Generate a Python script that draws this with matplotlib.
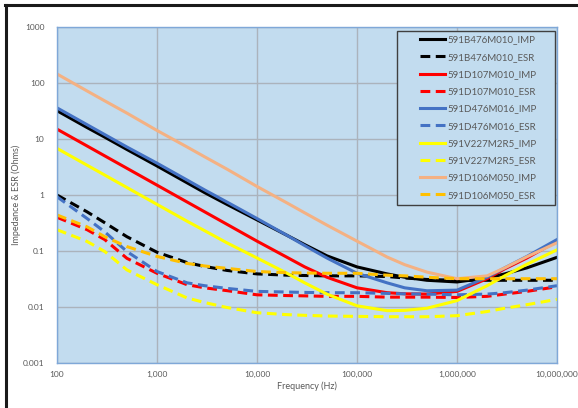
import matplotlib
matplotlib.use("Agg")
import matplotlib.pyplot as plt
from matplotlib.lines import Line2D
from matplotlib.patches import Rectangle
from matplotlib.ticker import FixedLocator, FixedFormatter

plt.rcParams['font.family'] = ['Lato', 'DejaVu Sans']

freq = [100, 200, 300, 500, 1e3, 2e3, 3e3, 5e3, 1e4, 2e4, 3e4, 5e4,
        1e5, 2e5, 3e5, 5e5, 1e6, 2e6, 3e6, 5e6, 1e7]

b476_imp = [32, 16, 10.8, 6.5, 3.3, 1.65, 1.1, 0.68, 0.36, 0.19, 0.13, 0.082,
            0.052, 0.039, 0.034, 0.030, 0.028, 0.033, 0.039, 0.050, 0.077]
b476_esr = [1.0, 0.50, 0.32, 0.18, 0.095, 0.062, 0.053, 0.045, 0.039, 0.037, 0.0365, 0.036,
            0.036, 0.035, 0.033, 0.031, 0.030, 0.030, 0.030, 0.030, 0.030]
d107_imp = [15, 7.5, 5.0, 3.0, 1.5, 0.75, 0.50, 0.30, 0.15, 0.077, 0.052, 0.034,
            0.022, 0.018, 0.0172, 0.017, 0.019, 0.032, 0.048, 0.075, 0.15]
d107_esr = [0.40, 0.24, 0.16, 0.074, 0.040, 0.025, 0.022, 0.0196, 0.0165, 0.016, 0.0158, 0.0155,
            0.0155, 0.015, 0.015, 0.015, 0.0148, 0.0155, 0.017, 0.019, 0.023]
d476_imp = [36, 18, 12, 7.2, 3.7, 1.85, 1.23, 0.75, 0.38, 0.19, 0.125, 0.075,
            0.040, 0.027, 0.022, 0.0195, 0.020, 0.034, 0.050, 0.080, 0.16]
d476_esr = [0.93, 0.38, 0.22, 0.098, 0.043, 0.027, 0.024, 0.0215, 0.019, 0.0185, 0.0182, 0.018,
            0.018, 0.0175, 0.0172, 0.017, 0.0165, 0.017, 0.018, 0.020, 0.024]
v227_imp = [6.8, 3.4, 2.27, 1.36, 0.68, 0.34, 0.23, 0.14, 0.075, 0.040, 0.027, 0.017,
            0.0105, 0.0086, 0.0087, 0.0095, 0.013, 0.024, 0.036, 0.058, 0.105]
v227_esr = [0.24, 0.148, 0.098, 0.046, 0.025, 0.0145, 0.012, 0.0098, 0.0079, 0.0073, 0.0071, 0.0069,
            0.0068, 0.0067, 0.0067, 0.0067, 0.0070, 0.0083, 0.0095, 0.011, 0.0137]
d106_imp = [145, 72, 48, 29, 14.2, 7.2, 4.8, 2.9, 1.42, 0.72, 0.48, 0.29,
            0.15, 0.078, 0.057, 0.042, 0.032, 0.036, 0.050, 0.079, 0.14]
d106_esr = [0.44, 0.27, 0.18, 0.12, 0.080, 0.060, 0.054, 0.049, 0.043, 0.041, 0.0405, 0.040,
            0.040, 0.037, 0.036, 0.034, 0.032, 0.032, 0.032, 0.032, 0.032]

series = [
    ("591B476M010_IMP", b476_imp, "#000000", "-"),
    ("591B476M010_ESR", b476_esr, "#000000", "--"),
    ("591D107M010_IMP", d107_imp, "#FF0000", "-"),
    ("591D107M010_ESR", d107_esr, "#FF0000", "--"),
    ("591D476M016_IMP", d476_imp, "#4472C4", "-"),
    ("591D476M016_ESR", d476_esr, "#4472C4", "--"),
    ("591V227M2R5_IMP", v227_imp, "#FFFF00", "-"),
    ("591V227M2R5_ESR", v227_esr, "#FFFF00", "--"),
    ("591D106M050_IMP", d106_imp, "#F4B183", "-"),
    ("591D106M050_ESR", d106_esr, "#FFC000", "--"),
]

fig = plt.figure(figsize=(5.78, 4.08), dpi=100)
ax = fig.add_axes([57/578, 45/408, 500/578, 336/408])
ax.set_facecolor("#C2DCEF")

for name, vals, col, ls in series:
    if ls == "--":
        ax.plot(freq, vals, color=col, lw=2.2, dashes=(3.2, 1.8), label=name)
    else:
        ax.plot(freq, vals, color=col, lw=2.2, label=name)

ax.set_xscale("log")
ax.set_yscale("log")
ax.set_xlim(100, 1e7)
ax.set_ylim(0.001, 1000)

xt = [100, 1e3, 1e4, 1e5, 1e6, 1e7]
yt = [0.001, 0.01, 0.1, 1, 10, 100, 1000]
ax.xaxis.set_major_locator(FixedLocator(xt))
ax.xaxis.set_major_formatter(FixedFormatter(["100", "1,000", "10,000", "100,000", "1,000,000", "10,000,000"]))
ax.yaxis.set_major_locator(FixedLocator(yt))
ax.yaxis.set_major_formatter(FixedFormatter(["0.001", "0.01", "0.1", "1", "10", "100", "1000"]))
ax.minorticks_off()
ax.tick_params(length=0, labelsize=6, labelcolor="#595959")
ax.tick_params(axis="y", pad=9)
ax.tick_params(axis="x", pad=6)
ax.grid(True, color="#ABB3BC", lw=1)
ax.set_axisbelow(True)
for s in ax.spines.values():
    s.set_color("#7FA8D8")
    s.set_linewidth(1)

ax.set_xlabel("Frequency (Hz)", fontsize=6.5, color="#595959", labelpad=2)
ax.set_ylabel("Impedance & ESR (Ohms)", fontsize=6.5, color="#595959")
ax.yaxis.set_label_coords(-0.071, 0.5)

# legend box drawn separately so it can be wider than the entries
ax.add_patch(Rectangle(((397 - 57) / 500, 1 - (205 - 27) / 336), 158 / 500, 174 / 336,
                       transform=ax.transAxes, facecolor="#C2DCEF", edgecolor="#404040",
                       lw=1, zorder=4))
leg = ax.legend(loc="upper left", bbox_to_anchor=((420 - 57) / 500, 0.975), fontsize=7,
                frameon=False, handlelength=2.6, handletextpad=0.2, labelspacing=0.85,
                borderpad=0, borderaxespad=0)
leg.set_zorder(5)
for t in leg.get_texts():
    t.set_color("#595959")

fig.add_artist(Line2D([5/578, 1], [1 - 5/408, 1 - 5/408], color="#1a1a1a", lw=2.2))
fig.add_artist(Line2D([6/578, 6/578], [0, 1 - 5/408], color="#1a1a1a", lw=2.2))

fig.savefig("out.png", dpi=100)
